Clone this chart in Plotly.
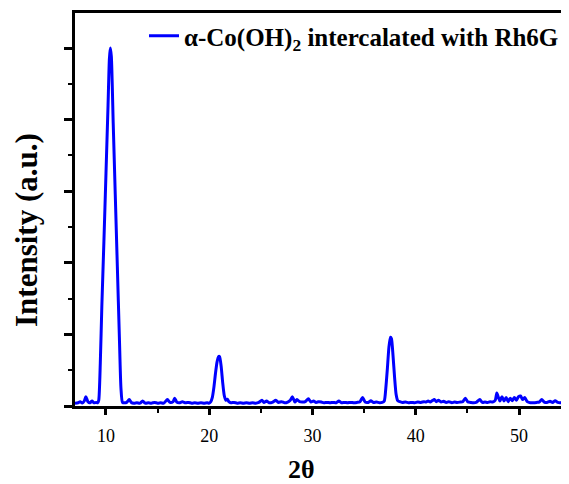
import plotly.graph_objects as go

two_theta = [7.0, 7.3, 7.5, 7.7, 7.9, 8.05, 8.25, 8.45, 8.65, 8.85, 9.05, 9.2,
             9.3, 9.45, 9.6, 9.8, 10.0, 10.2, 10.33, 10.42, 10.52, 10.7, 10.9, 11.1, 11.3, 11.45, 11.6,
             11.8, 12.0, 12.25, 12.45, 12.7, 13.0, 13.3, 13.55, 13.8, 14.1, 14.4, 14.7, 15.0, 15.3, 15.6,
             15.95, 16.2, 16.5, 16.65, 16.85, 17.1, 17.4, 17.7, 18.0, 18.3, 18.6, 18.9, 19.2, 19.5, 19.8, 20.0,
             20.15, 20.3, 20.45, 20.6, 20.75, 20.9, 21.0, 21.15, 21.3, 21.45, 21.6, 21.75, 21.9,
             22.1, 22.4, 22.7, 23.0, 23.3, 23.6, 23.9, 24.2, 24.5, 24.8, 25.1, 25.3, 25.55, 25.8, 26.1,
             26.45, 26.7, 27.0, 27.3, 27.6, 27.85, 28.05, 28.3, 28.5, 28.75, 29.0, 29.3, 29.6, 29.85,
             30.1, 30.35, 30.6, 30.85, 31.1, 31.4, 31.7, 32.0, 32.3, 32.55, 32.8, 33.1, 33.4, 33.7, 34.0,
             34.3, 34.6, 34.85, 35.1, 35.4, 35.65, 35.9, 36.2, 36.5, 36.75,
             36.95, 37.1, 37.25, 37.4, 37.55, 37.65, 37.8, 37.95, 38.1, 38.25, 38.45,
             38.7, 39.0, 39.3, 39.6, 39.9, 40.2, 40.5, 40.8, 41.0, 41.2, 41.4, 41.6, 41.8, 42.0, 42.2,
             42.45, 42.7, 42.95, 43.2, 43.5, 43.75, 44.0, 44.3, 44.55, 44.8, 45.05, 45.3, 45.6, 45.9,
             46.2, 46.45, 46.7, 46.95, 47.2, 47.45, 47.7, 47.85, 48.0, 48.15, 48.35, 48.55, 48.75, 48.95,
             49.15, 49.35, 49.55, 49.75, 49.95, 50.15, 50.35, 50.55, 50.8, 51.1, 51.4, 51.7, 51.95, 52.2,
             52.45, 52.7, 53.0, 53.25, 53.5, 53.75, 54.0, 54.3, 54.6, 54.9]

intensity = [40, 45, 60, 42, 70, 130, 60, 45, 70, 45, 50, 45,
             80, 600, 1400, 2300, 3250, 4200, 4850, 5000, 4880, 3950, 2950, 1950, 950, 250, 50,
             45, 50, 90, 50, 40, 45, 40, 70, 40, 45, 40, 50, 40, 45, 40,
             90, 50, 60, 110, 55, 45, 60, 45, 50, 40, 45, 40, 45, 40, 45, 40,
             60, 120, 260, 450, 610, 690, 690, 560, 330, 150, 80, 95, 60,
             45, 50, 40, 45, 40, 45, 40, 45, 40, 50, 80, 50, 70, 45, 50,
             80, 50, 60, 45, 55, 80, 130, 55, 90, 60, 55, 60, 100, 55,
             70, 50, 60, 55, 45, 50, 45, 50, 45, 70, 45, 50, 45, 50, 45,
             50, 60, 120, 55, 50, 75, 50, 55, 45, 50,
             70, 250, 520, 820, 960, 940, 700, 400, 160, 75, 60,
             50, 55, 45, 50, 45, 55, 50, 60, 55, 70, 55, 75, 90, 60, 80,
             55, 65, 50, 60, 45, 55, 50, 55, 60, 110, 55, 50, 45, 55,
             90, 50, 55, 50, 60, 55, 80, 180, 120, 70, 130, 70, 120, 60,
             110, 75, 120, 80, 130, 140, 90, 120, 60, 45, 45, 50, 55, 90,
             55, 50, 65, 50, 75, 50, 45, 55, 50, 45]

x_ticks = [10, 20, 30, 40, 50]
series_name = "α-Co(OH)<sub>2</sub> intercalated with Rh6G"

FONT = "Liberation Serif"

# The page body has an 8px margin, so the figure is offset by 8px
W, H = 561, 476
L, T, R, B = 67, 5, 0, 78
PW, PH = W - L - R, H - T - B

def px(xp):  # page x -> paper x
    return (xp - 8 - L) / PW

def py(yp):  # page y -> paper y
    return 1 - (yp - 8 - T) / PH

fig = go.Figure()
fig.add_trace(go.Scatter(
    x=two_theta, y=intensity, mode="lines", name=series_name,
    line=dict(color="#0000FF", width=3, shape="spline", smoothing=0.6),
))

fig.update_layout(
    width=W, height=H,
    margin=dict(l=L, r=R, t=T, b=B),
    paper_bgcolor="white", plot_bgcolor="white",
    showlegend=True,
    legend=dict(
        x=px(144), y=py(36), xanchor="left", yanchor="middle",
        bgcolor="rgba(0,0,0,0)", borderwidth=0,
        font=dict(family=FONT, size=25, color="black", weight="bold"),
        itemwidth=30,
    ),
    xaxis=dict(
        range=[7.0, 54.84], tickvals=x_ticks,
        showline=True, linecolor="black", linewidth=2.5, mirror=True,
        ticks="outside", ticklen=6, tickwidth=2.5, tickcolor="black",
        minor=dict(dtick=5, tick0=0, ticks="outside", ticklen=4, tickwidth=2, tickcolor="black"),
        showgrid=False, zeroline=False,
        tickfont=dict(family=FONT, size=18, color="black"),
        ticklabelstandoff=6,
    ),
    yaxis=dict(
        range=[0, 5490], dtick=1000, tick0=0,
        showline=True, linecolor="black", linewidth=2.5, mirror=False,
        ticks="outside", ticklen=8, tickwidth=2.5, tickcolor="black",
        minor=dict(dtick=500, tick0=0, ticks="outside", ticklen=4, tickwidth=2, tickcolor="black"),
        showticklabels=False, showgrid=False, zeroline=False,
    ),
    annotations=[
        dict(text="<b>2θ</b>", xref="paper", yref="paper", x=px(301), y=py(469),
             xanchor="center", yanchor="middle", showarrow=False,
             font=dict(family=FONT, size=26, color="black")),
        dict(text="<b>Intensity (a.u.)</b>", xref="paper", yref="paper", x=px(26), y=py(230),
             xanchor="center", yanchor="middle", showarrow=False, textangle=-90,
             font=dict(family=FONT, size=31, color="black")),
    ],
)

fig.write_html("out.html")
